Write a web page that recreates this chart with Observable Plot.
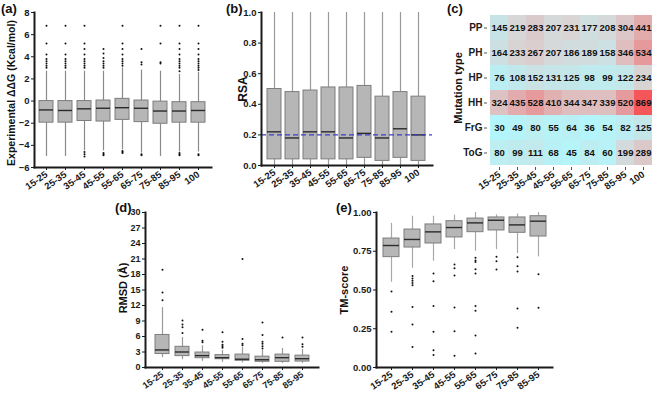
<!DOCTYPE html>
<html>
<head>
<meta charset="utf-8">
<script src="https://cdn.jsdelivr.net/npm/d3@7"></script>
<script src="https://cdn.jsdelivr.net/npm/@observablehq/plot@0.6"></script>
<style>
  body { margin: 0; background: #fff; }
  #root { position: relative; width: 666px; height: 400px; overflow: hidden; font-family: "Liberation Sans", Arial, sans-serif; }
  .panel { position: absolute; }
  .tag { position: absolute; font-weight: bold; font-size: 13px; color: #111; }
  .ylab { position: absolute; font-weight: bold; font-size: 11px; color: #111; white-space: nowrap; transform: translate(-50%, -50%) rotate(-90deg); }
</style>
</head>
<body>
<div id="root"></div>
<script>
// ---------- data ----------
const catsAll = ["15-25","25-35","35-45","45-55","55-65","65-75","75-85","85-95","100"];
const cats8 = catsAll.slice(0, 8);

// (a) Experimental ddG
const q1A = [-1.95,-1.95,-1.8,-1.85,-1.7,-1.9,-2.05,-1.95,-1.95];
const medA = [-0.8,-0.85,-0.7,-0.65,-0.6,-0.65,-0.9,-0.9,-0.85];
const q3A = [0.0,0.0,0.0,0.05,0.2,0.05,-0.05,-0.1,-0.1];
const loA = [-5.0,-5.0,-4.5,-4.5,-4.4,-4.7,-5.0,-4.6,-4.6];
const hiA = [2.7,2.7,2.7,2.7,3.0,2.8,2.7,2.4,2.6];
const outA = [
  [3.0,3.2,3.4,3.6,3.8,4.2,5.2,6.8],
  [3.0,3.2,3.4,3.6,3.8,4.2,5.2,6.8],
  [3.0,3.2,3.4,3.6,3.8,4.2,4.7,5.2,6.8,-4.6,-4.8,-5.0],
  [3.0,3.2,3.4,3.6,3.9,4.3,4.7,-4.7,-4.8,-4.9],
  [3.2,3.4,3.6,3.8,4.2,4.7,5.2,6.8,-4.5,-4.6,-4.7],
  [3.3,3.5,4.7,-4.8,-4.9],
  [3.4,3.5,5.2,6.8],
  [2.7,3.0,3.2,3.4,3.6,3.8,4.2,4.7,5.2,6.8,-4.7,-4.8,-4.9],
  [2.8,3.0,3.2,3.4,3.6,3.8,4.2,4.7,5.2,6.8,-4.8,-4.9]
];
const ticksA = [-6,-4,-2,0,2,4,6,8];

// (b) RSA
const q1B = [0.04,0.04,0.04,0.04,0.04,0.05,0.03,0.05,0.03];
const medB = [0.22,0.18,0.22,0.22,0.18,0.21,0.18,0.24,0.20];
const q3B = [0.50,0.48,0.49,0.51,0.51,0.52,0.45,0.48,0.45];
const loB = [0,0,0,0,0,0,0,0,0];
const hiB = [1,1,1,1,1,1,1,1,1];
const outB = [[],[],[],[],[],[],[],[],[]];
const refB = [0.2];
const ticksB = [0,0.2,0.4,0.6,0.8,1.0];

// (c) heatmap counts
const mutTypes = ["PP","PH","HP","HH","FrG","ToG"];
const countsPP = [145,219,283,207,231,177,208,304,441];
const countsPH = [164,233,267,207,186,189,158,346,534];
const countsHP = [76,108,152,131,125,98,99,122,234];
const countsHH = [324,435,528,410,344,347,339,520,869];
const countsFrG = [30,49,80,55,64,36,54,82,125];
const countsToG = [80,99,111,68,45,84,60,199,289];

// (d) RMSD
const q1D = [2.6,2.2,1.8,1.6,1.3,1.1,1.1,1.15];
const medD = [3.4,3.0,2.3,1.9,1.6,1.5,1.9,1.7];
const q3D = [6.3,4.0,2.9,2.4,2.5,2.1,2.5,2.3];
const loD = [1.9,1.5,1.2,1.0,0.9,0.8,0.8,0.8];
const hiD = [11.6,5.8,4.2,3.3,3.9,3.3,3.7,3.5];
const outD = [[13.0,14.5,18.9],[6.7,7.8,8.3,9.1],[4.9,5.2,7.3],[3.8,4.1,4.4,5.0,6.8],[4.3,4.6,5.5,21.0],[3.7,4.1,4.6,5.0,6.3,8.7],[5.8],[4.0,4.5,5.8]];
const ticksD = [0,3,6,9,12,15,18,21,24,27,30];

// (e) TM-score
const q1E = [0.712,0.774,0.80,0.839,0.873,0.884,0.869,0.845];
const medE = [0.787,0.826,0.875,0.903,0.933,0.95,0.92,0.944];
const q3E = [0.832,0.89,0.923,0.944,0.961,0.968,0.968,0.976];
const loE = [0.55,0.64,0.686,0.761,0.75,0.761,0.735,0.714];
const hiE = [0.93,0.976,0.976,0.983,1.0,0.985,0.99,1.0];
const outE = [[0.49,0.36,0.23],[0.59,0.575,0.56,0.545,0.53,0.39,0.277,0.133],[0.606,0.557,0.396,0.231,0.112,0.08],[0.665,0.641,0.594,0.387,0.234,0.076],[0.708,0.69,0.68,0.634,0.606,0.396,0.366,0.206,0.091],[0.714,0.686,0.632],[0.712,0.654,0.62,0.38,0.256],[0.602,0.385]];
const ticksE = [0,0.25,0.5,0.75,1.0];

// ---------- helpers ----------
const root = document.getElementById("root");
const baseStyle = {fontFamily: '"Liberation Sans", Arial, sans-serif', fontSize: "9.5px", fontWeight: "bold", color: "#1a1a1a", background: "transparent", overflow: "visible"};

function place(el, left, top) {
  el.classList.add("panel");
  el.style.left = left + "px";
  el.style.top = top + "px";
  root.appendChild(el);
}
function tag(text, left, top) {
  const d = document.createElement("div");
  d.className = "tag"; d.textContent = text;
  d.style.left = left + "px"; d.style.top = top + "px";
  root.appendChild(d);
}
function ylab(text, cx, cy, size) {
  const d = document.createElement("div");
  d.className = "ylab"; d.textContent = text;
  d.style.left = cx + "px"; d.style.top = cy + "px";
  if (size) d.style.fontSize = size + "px";
  root.appendChild(d);
}

function boxPanel(o) {
  const rows = o.cats.map((c, i) => ({cat: c, q1: o.q1[i], med: o.med[i], q3: o.q3[i], lo: o.lo[i], hi: o.hi[i]}));
  const outs = o.cats.flatMap((c, i) => o.out[i].map(v => ({cat: c, v})));
  return Plot.plot({
    width: o.width, height: o.height,
    marginLeft: o.ml, marginRight: o.mr, marginTop: o.mt, marginBottom: o.mb,
    style: {...baseStyle, fontSize: o.fs || baseStyle.fontSize},
    x: {domain: o.cats, padding: o.padding, axis: null},
    y: {domain: o.yDomain, axis: null},
    marks: [
      Plot.ruleX(rows, {x: "cat", y1: "lo", y2: "q1", stroke: o.whisker, strokeWidth: 1.2}),
      Plot.ruleX(rows, {x: "cat", y1: "q3", y2: "hi", stroke: o.whisker, strokeWidth: 1.2}),
      Plot.barY(rows, {x: "cat", y1: "q1", y2: "q3", fill: "#b6b6b6", stroke: "#7d7d7d", strokeWidth: 1}),
      Plot.tickY(rows, {x: "cat", y: "med", stroke: "#2b2b2b", strokeWidth: 1.4}),
      Plot.dot(outs, {x: "cat", y: "v", r: 1, fill: "#111", stroke: null}),
      ...(o.extra || []),
      Plot.frame({anchor: "left", stroke: "#1a1a1a", strokeWidth: 2}),
      Plot.frame({anchor: "bottom", stroke: "#1a1a1a", strokeWidth: 2}),
      Plot.axisY(o.ticks, {tickFormat: o.fmt, tickSize: 3, tickPadding: 2, stroke: "#1a1a1a", label: null}),
      Plot.axisX({tickRotate: -35, tickSize: 3, tickPadding: 3, stroke: "#1a1a1a", label: null})
    ]
  });
}

// ---------- (a) ----------
place(boxPanel({
  cats: catsAll, q1: q1A, med: medA, q3: q3A, lo: loA, hi: hiA, out: outA,
  yDomain: [-6, 8], ticks: ticksA, fmt: d3.format("d"),
  width: 215, height: 200, ml: 34, mr: 4, mt: 12, mb: 33, padding: 0.26, whisker: "#8a8a8a"
}), 0, 0);
tag("(a)", 1, 1);
ylab("Experimental \u0394\u0394G (Kcal/mol)", 11, 93, 10.5);

// ---------- (b) ----------
place(boxPanel({
  cats: catsAll, q1: q1B, med: medB, q3: q3B, lo: loB, hi: hiB, out: outB,
  yDomain: [0, 1], ticks: ticksB, fmt: d3.format(".1f"),
  width: 225, height: 200, ml: 46, mr: 8, mt: 12, mb: 35, padding: 0.2, whisker: "#9a9a9a",
  extra: [Plot.ruleY(refB, {stroke: "#3a3ad0", strokeWidth: 1.3, strokeDasharray: "5,3"})]
}), 215, 0);
tag("(b)", 226, 1);
ylab("RSA", 243, 89, 12);

// ---------- (c) ----------
const countRows = [countsPP, countsPH, countsHP, countsHH, countsFrG, countsToG];
const cells = mutTypes.flatMap((t, r) => catsAll.map((c, i) => ({type: t, cat: c, v: countRows[r][i]})));
const heat = Plot.plot({
  width: 226, height: 200, marginLeft: 47, marginRight: 12, marginTop: 12, marginBottom: 33,
  style: baseStyle,
  x: {domain: catsAll, padding: 0, axis: null},
  y: {domain: mutTypes, padding: 0, axis: null},
  color: {type: "linear", domain: [30, 230, 869], range: ["#b2f6fc", "#d9d5d5", "#f4565a"]},
  marks: [
    Plot.cell(cells, {x: "cat", y: "type", fill: "v"}),
    Plot.text(cells, {x: "cat", y: "type", text: "v", fill: "#111", fontSize: 9.5, fontWeight: "bold"}),
    Plot.axisY({tickSize: 3, tickPadding: 2, stroke: "#555", label: null, fontSize: 10}),
    Plot.axisX({tickRotate: -35, tickSize: 3, tickPadding: 3, stroke: "#555", label: null})
  ]
});
place(heat, 440, 0);
tag("(c)", 447, 1);
ylab("Mutation type", 458, 88, 11);

// ---------- (d) ----------
place(boxPanel({
  cats: cats8, q1: q1D, med: medD, q3: q3D, lo: loD, hi: hiD, out: outD,
  yDomain: [0, 30], ticks: ticksD, fmt: d3.format("d"), fs: "9px",
  width: 225, height: 200, ml: 45, mr: 7, mt: 12, mb: 33, padding: 0.3, whisker: "#9a9a9a"
}), 100, 200);
tag("(d)", 115, 200);
ylab("RMSD (\u00c5)", 123, 288, 11);

// ---------- (e) ----------
place(boxPanel({
  cats: cats8, q1: q1E, med: medE, q3: q3E, lo: loE, hi: hiE, out: outE,
  yDomain: [0, 1], ticks: ticksE, fmt: d3.format(".2f"),
  width: 235, height: 200, ml: 51, mr: 8, mt: 12, mb: 33, padding: 0.26, whisker: "#a8a8a8"
}), 325, 200);
tag("(e)", 336, 200);
ylab("TM-score", 344, 290, 11);
</script>
</body>
</html>
